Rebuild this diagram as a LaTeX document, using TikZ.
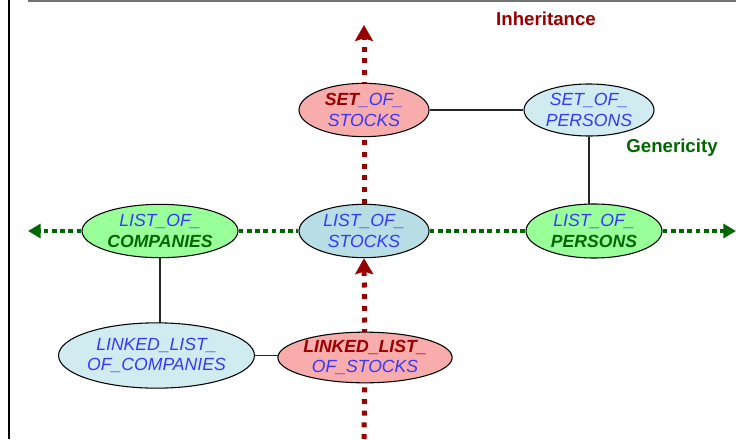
\documentclass[tikz,border=0pt]{standalone}
\usepackage{fontspec}
\setmainfont{Liberation Sans}
\usetikzlibrary{shapes.geometric,arrows.meta,backgrounds}
\definecolor{txtblue}{RGB}{55,55,255}
\definecolor{dred}{RGB}{153,0,0}
\definecolor{dgreen}{RGB}{0,102,0}
\definecolor{pinkfill}{RGB}{248,172,172}
\definecolor{cyanfill}{RGB}{208,236,240}
\definecolor{bluefill}{RGB}{182,222,228}
\definecolor{greenfill}{RGB}{153,255,153}
\begin{document}
\begin{tikzpicture}[x=0.75pt,y=-0.75pt,
  cls/.style={ellipse,draw=black,line width=0.8pt,inner sep=0pt,align=center,
    text=txtblue,font=\fontsize{13.2}{15.5}\selectfont\itshape},
  inhline/.style={draw=dred,line width=3.75pt,dash pattern=on 3.75pt off 5pt},
  inharrow/.style={inhline,-{Stealth[length=12pt,width=13.5pt,inset=2pt]}},
  genline/.style={draw=dgreen,line width=3.4pt,dash pattern=on 3.6pt off 2.6pt},
  genarrow/.style={genline,-{Triangle[length=9.5pt,width=10.5pt]}},
  plain/.style={draw=black!85,line width=0.8pt},
  lbl/.style={font=\fontsize{14}{16}\selectfont\bfseries}
]
\useasboundingbox (0,0) rectangle (753,439);
% frame
\draw[line width=1.5pt,black] (9,0) -- (9,439);
\draw[line width=1.5pt,black!55] (28,1) -- (736,1);

% class nodes
\node[cls,fill=pinkfill,minimum width=97.5pt,minimum height=40pt] (sstocks) at (364,110)
  {\textcolor{dred}{\bfseries SET}\_OF\_\\STOCKS};
\node[cls,fill=cyanfill,minimum width=97.5pt,minimum height=39pt] (spersons) at (589,110)
  {SET\_OF\_\\PERSONS};
\node[cls,fill=greenfill,minimum width=117pt,minimum height=40pt] (lcomp) at (160,231)
  {LIST\_OF\_\\\textcolor{dgreen}{\bfseries COMPANIES}};
\node[cls,fill=bluefill,minimum width=97.5pt,minimum height=40pt] (lstocks) at (364,231)
  {LIST\_OF\_\\STOCKS};
\node[cls,fill=greenfill,minimum width=102pt,minimum height=40.5pt] (lpersons) at (594,231)
  {LIST\_OF\_\\\textcolor{dgreen}{\bfseries PERSONS}};
\node[cls,fill=cyanfill,minimum width=139pt,minimum height=49pt] (llcomp) at (156.5,355.5)
  {LINKED\_LIST\_\\OF\_COMPANIES};
\node[cls,fill=pinkfill,minimum width=130.5pt,minimum height=38pt] (llstocks) at (365,357.5)
  {\textcolor{dred}{\bfseries LINKED\_LIST\_}\\OF\_STOCKS};

% labels
\node[lbl,text=dred] (inhlabel) at (546,19) {Inheritance};
\node[lbl,text=dgreen] (genlabel) at (672,148) {Genericity};

% free ends
\coordinate (redbot) at (364,439);
\coordinate (redtop) at (364,25);
\coordinate (gleft) at (28,231);
\coordinate (gright) at (736,231);

\begin{scope}[on background layer]
  \draw[plain] (sstocks) -- (spersons);
  \draw[plain] (spersons.south) -- (spersons.south |- lpersons.center);
  \draw[plain] (lcomp.south) -- (lcomp.south |- llcomp.center);
  \draw[plain] (llcomp) -- (llcomp -| llstocks);
  % inheritance axis
  \draw[inhline] (redbot) -- (llstocks.center);
  \draw[inharrow] (llstocks.center) -- (lstocks.south);
  \draw[inhline] (lstocks.north) -- (sstocks.center);
  \draw[inharrow] (sstocks.center) -- (redtop);
  % genericity axis
  \draw[genarrow] (lcomp.west) -- (gleft);
  \draw[genline] (lcomp.east) -- (lstocks.west);
  \draw[genline] (lstocks.east) -- (lpersons.west);
  \draw[genarrow] (lpersons.east) -- (gright);
\end{scope}
\end{tikzpicture}
\end{document}
